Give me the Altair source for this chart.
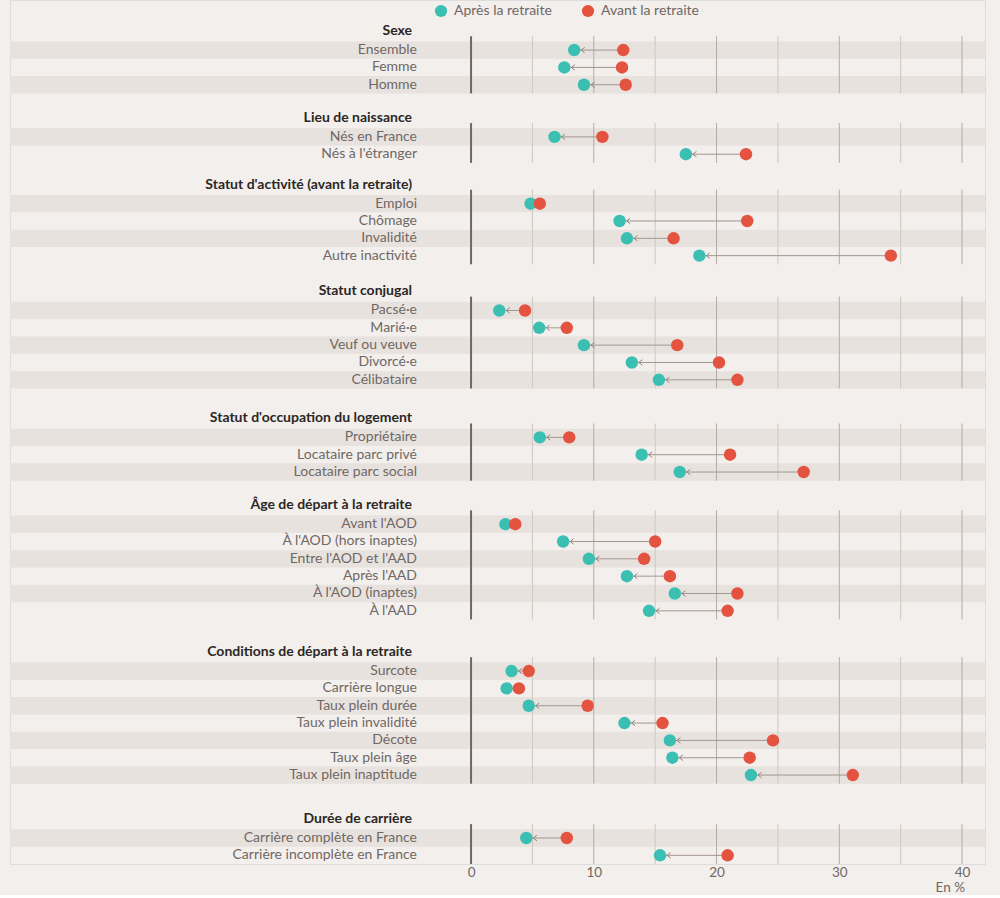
import altair as alt
import pandas as pd

# ---------------- data ----------------
groups = [
    "Sexe",
    "Lieu de naissance",
    "Statut d'activité (avant la retraite)",
    "Statut conjugal",
    "Statut d'occupation du logement",
    "Âge de départ à la retraite",
    "Conditions de départ à la retraite",
    "Durée de carrière",
]
categories = [
    ["Ensemble", "Femme", "Homme"],
    ["Nés en France", "Nés à l'étranger"],
    ["Emploi", "Chômage", "Invalidité", "Autre inactivité"],
    ["Pacsé·e", "Marié·e", "Veuf ou veuve", "Divorcé·e", "Célibataire"],
    ["Propriétaire", "Locataire parc privé", "Locataire parc social"],
    ["Avant l'AOD", "À l'AOD (hors inaptes)", "Entre l'AOD et l'AAD", "Après l'AAD",
     "À l'AOD (inaptes)", "À l'AAD"],
    ["Surcote", "Carrière longue", "Taux plein durée", "Taux plein invalidité",
     "Décote", "Taux plein âge", "Taux plein inaptitude"],
    ["Carrière complète en France", "Carrière incomplète en France"],
]
apres = [
    [8.4, 7.6, 9.2],
    [6.8, 17.5],
    [4.85, 12.1, 12.7, 18.6],
    [2.3, 5.55, 9.2, 13.1, 15.3],
    [5.6, 13.9, 17.0],
    [2.8, 7.5, 9.6, 12.7, 16.6, 14.5],
    [3.3, 2.9, 4.7, 12.5, 16.2, 16.4, 22.8],
    [4.5, 15.4],
]
avant = [
    [12.4, 12.3, 12.6],
    [10.7, 22.4],
    [5.6, 22.5, 16.5, 34.2],
    [4.4, 7.8, 16.8, 20.2, 21.7],
    [8.0, 21.1, 27.1],
    [3.6, 15.0, 14.1, 16.2, 21.7, 20.9],
    [4.7, 3.9, 9.5, 15.6, 24.6, 22.7, 31.1],
    [7.8, 20.9],
]
series_names = ["Après la retraite", "Avant la retraite"]
x_ticks = [0, 10, 20, 30, 40]
grid_ticks = [0, 5, 10, 15, 20, 25, 30, 35, 40]

# ---------------- layout (row slots) ----------------
labels_rows, stripe_rows, grid_rows, pair_rows = [], [], [], []
pos = 0.0
for gi, g in enumerate(groups):
    labels_rows.append({"label": g, "y": pos, "kind": "header"})
    n = len(categories[gi])
    first = pos + 1.1
    for i, lab in enumerate(categories[gi]):
        y = first + i
        labels_rows.append({"label": lab, "y": y, "kind": "row"})
        if i % 2 == 0:
            stripe_rows.append({"y": y - 0.5, "y2": y + 0.5})
        pair_rows.append({"y": y, "apres": apres[gi][i], "avant": avant[gi][i]})
    last = first + n - 1
    for t in grid_ticks:
        grid_rows.append({"x": t, "y": first - 0.8, "y2": last + 0.5,
                          "kind": "zero" if t == 0 else ("ten" if t % 10 == 0 else "five")})
    pos = last + 1.44 + 0.156 * n

point_rows = []
for s_name, key in zip(series_names, ["apres", "avant"]):
    for r in pair_rows:
        point_rows.append({"serie": s_name, "value": r[key], "y": r["y"]})

y_end = pair_rows[-1]["y"] + 0.5
labels_df = pd.DataFrame(labels_rows)
stripe_df = pd.DataFrame(stripe_rows)
grid_df = pd.DataFrame(grid_rows)
pair_df = pd.DataFrame(pair_rows)
point_df = pd.DataFrame(point_rows)

W, H = 975, 864
TEAL, RED = "#3bbfb3", "#e4533f"
LABEL_COLOR = "#6f6865"
FONT = "Lato"
xs = alt.Scale(domain=[-37.56, 41.87], nice=False, zero=False)
ys = alt.Scale(domain=[-1.79, y_end], reverse=True, nice=False, zero=False)
xaxis = alt.Axis(values=x_ticks, title=None, domain=False, ticks=False, grid=False,
                 labelFontSize=13.5, labelColor=LABEL_COLOR, labelPadding=1, labelFont=FONT)

stripes = alt.Chart(stripe_df).mark_rect(color="#e8e2de").encode(
    x=alt.value(0), x2=alt.value(W),
    y=alt.Y("y:Q", scale=ys, axis=None), y2="y2:Q",
)


def grid_layer(kind, color, width):
    return alt.Chart(grid_df[grid_df["kind"] == kind]).mark_rule(
        color=color, strokeWidth=width).encode(
        x=alt.X("x:Q", scale=xs, axis=xaxis),
        y=alt.Y("y:Q", scale=ys, axis=None), y2="y2:Q",
    )


grid_five = grid_layer("five", "#cec7c2", 1)
grid_ten = grid_layer("ten", "#b3aba7", 1)
grid_zero = grid_layer("zero", "#6e6764", 2)

connector = alt.Chart(pair_df).mark_rule(color="#a3958f", strokeWidth=1).encode(
    x=alt.X("avant:Q", scale=xs, axis=xaxis), x2="apres:Q",
    y=alt.Y("y:Q", scale=ys, axis=None),
)

arrow = alt.Chart(pair_df).mark_point(
    shape="M 1 -1.6 L -1 0 L 1 1.6", size=12, filled=False, stroke="#8f817c",
    strokeWidth=1, xOffset=8.8, opacity=1,
).encode(
    x=alt.X("apres:Q", scale=xs, axis=xaxis),
    y=alt.Y("y:Q", scale=ys, axis=None),
)

points = alt.Chart(point_df).mark_circle(size=155, opacity=1).encode(
    x=alt.X("value:Q", scale=xs, axis=xaxis),
    y=alt.Y("y:Q", scale=ys, axis=None),
    color=alt.Color("serie:N", scale=alt.Scale(domain=series_names, range=[TEAL, RED]),
                    legend=alt.Legend(title=None, orient="none", direction="horizontal",
                                      legendX=424, legendY=4, symbolType="circle",
                                      symbolSize=150, symbolStrokeWidth=0, labelFont=FONT,
                                      labelFontSize=14, labelColor=LABEL_COLOR,
                                      labelOffset=6, columnPadding=29)),
)

row_labels = alt.Chart(labels_df[labels_df["kind"] == "row"]).mark_text(
    align="right", baseline="middle", font=FONT, fontSize=14, color=LABEL_COLOR,
).encode(x=alt.value(407), y=alt.Y("y:Q", scale=ys, axis=None), text="label:N")

header_labels = alt.Chart(labels_df[labels_df["kind"] == "header"]).mark_text(
    align="right", baseline="middle", font=FONT, fontSize=14, fontWeight="bold",
    color="#2b2725",
).encode(x=alt.value(402), y=alt.Y("y:Q", scale=ys, axis=None), text="label:N")

unit = alt.Chart(pd.DataFrame({"x": [x_ticks[-1]], "t": ["En %"]})).mark_text(
    align="right", baseline="middle", font=FONT, fontSize=13.5, color=LABEL_COLOR, dx=3,
).encode(x=alt.X("x:Q", scale=xs, axis=xaxis), y=alt.value(888), text="t:N")

chart = alt.layer(
    stripes, grid_five, grid_ten, grid_zero, connector, arrow, points,
    row_labels, header_labels, unit
).properties(
    width=W, height=H, padding={"left": 10, "top": 0, "right": 15, "bottom": 0},
    background="#f3efec",
).configure_view(stroke=None).configure(font=FONT)

chart.save("out.html", embed_options={"renderer": "svg", "actions": False})
